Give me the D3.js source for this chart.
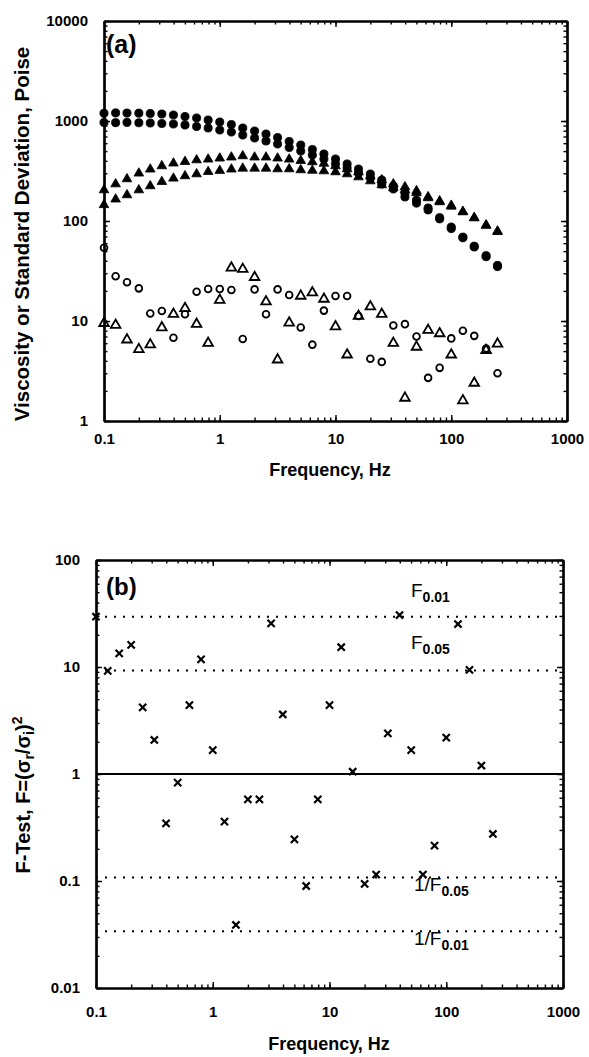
<!DOCTYPE html>
<html><head><meta charset="utf-8">
<script src="https://cdn.jsdelivr.net/npm/d3@7"></script>
<style>
body{margin:0;background:#fff;}
svg{display:block;}
text{font-family:"Liberation Sans",Arial,Helvetica,sans-serif;fill:#000;}
</style></head><body>
<svg id="chart" width="589" height="1057"></svg>
<script>
// ---------- data ----------
const frequencies = [0.1,0.126,0.158,0.2,0.251,0.316,0.398,0.501,0.631,0.794,
  1,1.26,1.58,2,2.51,3.16,3.98,5.01,6.31,7.94,
  10,12.6,15.8,20,25.1,31.6,39.8,50.1,63.1,79.4,
  100,126,158,200,251];
const viscCircleUpper = [1195,1205,1200,1198,1189,1175,1148,1109,1072,1023,977,923,851,794,741,684,624,575,519,468,417,372,331,295,257,224,191,162,135,108,87,69,56,45,36];
const viscCircleLower = [966,962,968,960,955,944,933,912,881,851,813,776,724,676,631,589,543,501,457,417,372,339,302,269,234,209,174,151,129,105,84,68,55,44,35];
const viscTriUpper = [204,234,263,300,329,355,378,392,407,414,424,434,447,434,434,424,414,401,389,376,355,331,309,282,257,234,219,200,174,158,143,124,108,91,79];
const viscTriLower = [145,165,182,204,224,247,267,282,295,311,319,329,336,336,336,331,331,324,320,316,309,295,275,251,229,214,204,191,170,155,140,123,107,90,78];
const stdCircle = [54,28,24.4,21.2,11.9,12.6,6.8,11.7,19.6,20.9,20.9,20.4,6.6,20.7,11.7,20.7,18.2,8.6,5.8,12.7,17.8,17.8,11.2,4.2,3.9,9.0,9.3,7.0,2.7,3.4,6.7,8.0,7.1,5.3,3.0];
const stdTriangle = [9.5,9.1,6.5,5.2,5.8,8.6,11.7,13.4,9.3,6.0,16.2,34,33,27.4,15.6,4.1,9.6,17.8,19.2,16.6,8.8,4.6,11.2,13.9,11.7,6.0,1.7,5.5,8.1,7.5,4.6,1.6,2.4,5.1,5.9];
const fTest = [29.5,9.2,13.4,16.1,4.2,2.08,0.346,0.83,4.4,11.8,1.67,0.359,0.0388,0.58,0.58,25.6,3.6,0.245,0.0898,0.58,4.4,15.3,1.05,0.094,0.115,2.4,30.6,1.67,0.115,0.214,2.19,25.2,9.4,1.2,0.275];
const criticalValues = [29.46, 9.28, 0.1078, 0.0339];
const criticalPrefix = ["F", "F", "1/F", "1/F"];
const criticalSub = ["0.01", "0.05", "0.05", "0.01"];
const xTicks = [0.1,1,10,100,1000];
const xTickLabels = ["0.1","1","10","100","1000"];
const yTicksA = [1,10,100,1000,10000];
const yTickLabelsA = ["1","10","100","1000","10000"];
const yTicksB = [0.01,0.1,1,10,100];
const yTickLabelsB = ["0.01","0.1","1","10","100"];

// ---------- scales ----------
const svg = d3.select("#chart");
const xA = d3.scaleLog().domain([0.1,1000]).range([104,567]);
const yA = d3.scaleLog().domain([1,10000]).range([421,21]);
const xB = d3.scaleLog().domain([0.1,1000]).range([96,563]);
const yB = d3.scaleLog().domain([0.01,100]).range([988,560]);

function frame(x, y, yTicks, yLabels, xPad, yPad) {
  const g = svg.append("g");
  const [xl, xr] = x.range();
  const [yb, yt] = y.range();
  const minor = (ax, sc) => ax(sc).tickValues(sc.ticks()).tickSize(-3.5).tickSizeOuter(0).tickFormat("");
  g.append("g").attr("transform",`translate(0,${yb})`).call(minor(d3.axisBottom, x));
  g.append("g").attr("transform",`translate(0,${yt})`).call(minor(d3.axisTop, x));
  g.append("g").attr("transform",`translate(${xl},0)`).call(minor(d3.axisLeft, y));
  g.append("g").attr("transform",`translate(${xr},0)`).call(minor(d3.axisRight, y));
  g.append("g").attr("transform",`translate(0,${yb})`)
    .call(d3.axisBottom(x).tickValues(xTicks).tickSize(-6).tickSizeOuter(0).tickPadding(xPad).tickFormat((d,i)=>xTickLabels[i]));
  g.append("g").attr("transform",`translate(0,${yt})`)
    .call(d3.axisTop(x).tickValues(xTicks).tickSize(-6).tickSizeOuter(0).tickFormat(""));
  g.append("g").attr("transform",`translate(${xl},0)`)
    .call(d3.axisLeft(y).tickValues(yTicks).tickSize(-6).tickSizeOuter(0).tickPadding(yPad).tickFormat((d,i)=>yLabels[i]));
  g.append("g").attr("transform",`translate(${xr},0)`)
    .call(d3.axisRight(y).tickValues(yTicks).tickSize(-6).tickSizeOuter(0).tickFormat(""));
  g.selectAll(".domain").attr("stroke","#000").attr("stroke-width",2.2);
  g.selectAll(".tick line").attr("stroke","#000").attr("stroke-width",1.4);
  g.selectAll(".tick text").attr("font-size",15).attr("font-weight","bold")
    .attr("font-family","'Liberation Sans',Arial,sans-serif").attr("fill","#000");
  return g;
}

frame(xA, yA, yTicksA, yTickLabelsA, 12, 16);
frame(xB, yB, yTicksB, yTickLabelsB, 18, 16);

// ---------- panel (a) markers ----------
const gA = svg.append("g");
const filledCircle = d3.symbol().type(d3.symbolCircle).size(52);
const filledTri = d3.symbol().type(d3.symbolTriangle).size(40);
const openCircle = d3.symbol().type(d3.symbolCircle).size(36);
const openTri = d3.symbol().type(d3.symbolTriangle).size(40);

function plot(g, vals, sym, filled) {
  g.append("g").selectAll("path").data(vals).join("path")
    .attr("transform",(d,i)=>`translate(${xA(frequencies[i])},${yA(d)})`)
    .attr("d", sym)
    .attr("fill", filled ? "#000" : "none")
    .attr("stroke", "#000")
    .attr("stroke-width", filled ? 0.8 : 1.8);
}
plot(gA, viscCircleUpper, filledCircle, true);
plot(gA, viscCircleLower, filledCircle, true);
plot(gA, viscTriUpper, filledTri, true);
plot(gA, viscTriLower, filledTri, true);
plot(gA, stdCircle, openCircle, false);
plot(gA, stdTriangle, openTri, false);

svg.append("text").attr("x",106).attr("y",53).attr("font-size",25).attr("font-weight","bold").text("(a)");
svg.append("text").attr("text-anchor","middle").attr("font-size",20.5).attr("font-weight","bold")
  .attr("transform","translate(29,234) rotate(-90)")
  .text("Viscosity or Standard Deviation, Poise");
svg.append("text").attr("x",330).attr("y",476).attr("text-anchor","middle").attr("font-size",18).attr("font-weight","bold")
  .text("Frequency, Hz");

// ---------- panel (b) ----------
const gB = svg.append("g");
const [bxl, bxr] = xB.range();
gB.append("line").attr("x1",bxl).attr("x2",bxr).attr("y1",yB(1)).attr("y2",yB(1))
  .attr("stroke","#000").attr("stroke-width",2.2);
gB.selectAll("line.crit").data(criticalValues).join("line").attr("class","crit")
  .attr("x1",bxl).attr("x2",bxr).attr("y1",d=>yB(d)).attr("y2",d=>yB(d))
  .attr("stroke","#000").attr("stroke-width",1.9).attr("stroke-dasharray","2,7");

const labOff = [-20, -21, 13, 14];
const labX = [411, 411, 414, 414];
criticalValues.forEach((v,i)=>{
  const t = gB.append("text").attr("x",labX[i]).attr("y",yB(v)+labOff[i]).attr("font-size",19)
    .text(criticalPrefix[i]);
  t.append("tspan").attr("dy",5).attr("font-size",14).attr("font-weight","bold").text(criticalSub[i]);
});

gB.append("g").selectAll("path").data(fTest).join("path")
  .attr("d",(d,i)=>{
    const cx = xB(frequencies[i]), cy = yB(d), r = 3.6;
    return `M${cx-r},${cy-r}L${cx+r},${cy+r}M${cx-r},${cy+r}L${cx+r},${cy-r}`;
  })
  .attr("stroke","#000").attr("stroke-width",2.2).attr("fill","none");

svg.append("text").attr("x",106).attr("y",595).attr("font-size",24).attr("font-weight","bold").text("(b)");
const ty = svg.append("text").attr("text-anchor","middle").attr("font-size",20).attr("font-weight","bold")
  .attr("transform","translate(30,795) rotate(-90)");
ty.append("tspan").text("F-Test, F=(σ");
ty.append("tspan").attr("dy",4).attr("font-size",14).text("r");
ty.append("tspan").attr("dy",-4).text("/σ");
ty.append("tspan").attr("dy",4).attr("font-size",14).text("i");
ty.append("tspan").attr("dy",-4).text(")");
ty.append("tspan").attr("dy",-8).attr("font-size",14).text("2");
svg.append("text").attr("x",329).attr("y",1050).attr("text-anchor","middle").attr("font-size",18).attr("font-weight","bold")
  .text("Frequency, Hz");
</script>
</body></html>
